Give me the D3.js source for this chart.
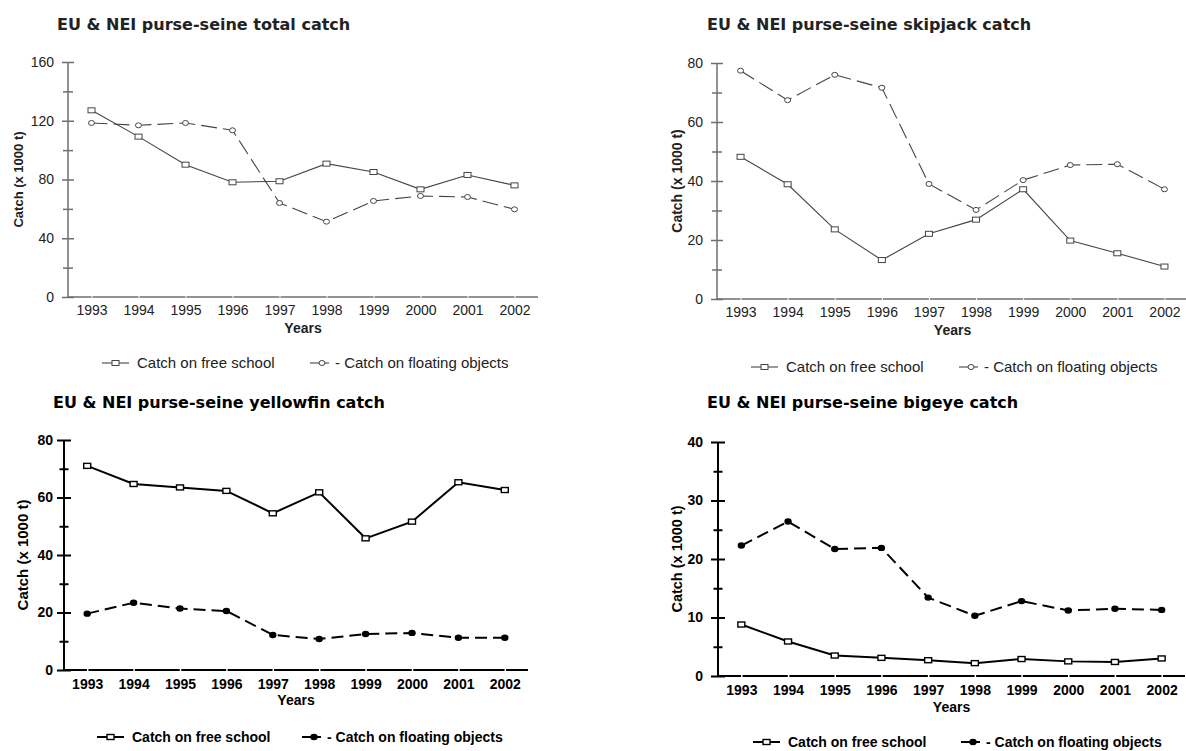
<!DOCTYPE html>
<html>
<head>
<meta charset="utf-8">
<script src="https://cdn.jsdelivr.net/npm/d3@7"></script>
<style>
  body { margin: 0; background: #fff; }
  svg { display: block; }
</style>
</head>
<body>
<div id="chart"></div>
<script>
// --- Data (thousand tonnes) ---
const years = [1993, 1994, 1995, 1996, 1997, 1998, 1999, 2000, 2001, 2002];

const totalFree     = [127.1, 109.2, 90.1, 78.1, 78.8, 90.8, 85.1, 73.3, 83.1, 76.0];
const totalFloating = [118.5, 116.9, 118.5, 113.5, 64.0, 51.3, 65.4, 68.8, 68.1, 59.7];

const skipjackFree     = [48.2, 38.9, 23.6, 13.2, 22.1, 26.9, 37.2, 19.8, 15.5, 11.0];
const skipjackFloating = [77.4, 67.4, 76.0, 71.6, 39.0, 30.2, 40.3, 45.4, 45.7, 37.2];

const yellowfinFree     = [71.0, 64.7, 63.5, 62.3, 54.5, 61.8, 45.8, 51.6, 65.3, 62.6];
const yellowfinFloating = [19.6, 23.4, 21.4, 20.5, 12.2, 10.8, 12.5, 12.9, 11.2, 11.2];

const bigeyeFree     = [8.8, 5.9, 3.5, 3.1, 2.7, 2.2, 2.9, 2.5, 2.4, 3.0];
const bigeyeFloating = [22.3, 26.4, 21.7, 21.9, 13.4, 10.3, 12.8, 11.2, 11.5, 11.3];

const titles = [
  "EU & NEI purse-seine total catch",
  "EU & NEI purse-seine skipjack catch",
  "EU & NEI purse-seine yellowfin catch",
  "EU & NEI purse-seine bigeye catch"
];
const legendLabels = ["Catch on free school", "- Catch on floating objects"];
const yAxisLabel = "Catch (x 1000 t)";
const xAxisLabel = "Years";

// --- Layout of the four panels ---
const W = 1186, H = 751;

const styles = {
  light: { axis: "#6e6e6e", axisW: 1.5, line: "#444", lineW: 1.1, text: "#222",
           tickWeight: "normal", legendWeight: "normal", legendSize: 15,
           major: 6, minor: 5, gapW: 1, dash: "16,6" },
  heavy: { axis: "#000", axisW: 2, line: "#000", lineW: 2, text: "#000",
           tickWeight: "bold", legendWeight: "bold", legendSize: 14,
           major: 7, minor: 4.5, gapW: 1.5, dash: "12,6" }
};

const panels = [
  { title: titles[0], free: totalFree, floating: totalFloating, yMax: 160, yStep: 20, labelStep: 40,
    x0: 68, x1: 538, yTop: 62, yBot: 297, titleX: 57, titleY: 30, tickLabelGap: 14,
    yearY: 315, yearsY: 333, yLabelX: 18, yLabelSize: 13, legendY: 368, leg1: 102, leg2: 310, style: "light" },
  { title: titles[1], free: skipjackFree, floating: skipjackFloating, yMax: 80, yStep: 10, labelStep: 20,
    x0: 717, x1: 1188, yTop: 63, yBot: 299, titleX: 707, titleY: 30, tickLabelGap: 14,
    yearY: 317, yearsY: 335, yLabelX: 677, yLabelSize: 14, legendY: 372, leg1: 751, leg2: 959, style: "light" },
  { title: titles[2], free: yellowfinFree, floating: yellowfinFloating, yMax: 80, yStep: 10, labelStep: 20,
    x0: 64, x1: 528, yTop: 440, yBot: 670, titleX: 53, titleY: 408, tickLabelGap: 11,
    yearY: 689, yearsY: 705, yLabelX: 23, yLabelSize: 15, legendY: 742, leg1: 97, leg2: 302, style: "heavy" },
  { title: titles[3], free: bigeyeFree, floating: bigeyeFloating, yMax: 40, yStep: 5, labelStep: 10,
    x0: 718, x1: 1185, yTop: 442, yBot: 676, titleX: 707, titleY: 408, tickLabelGap: 15,
    yearY: 695, yearsY: 712, yLabelX: 677, yLabelSize: 14.5, legendY: 747, leg1: 753, leg2: 961, style: "heavy" }
];

const svg = d3.select("#chart").append("svg")
  .attr("width", W)
  .attr("height", H)
  .attr("viewBox", [0, 0, W, H]);

svg.append("rect").attr("width", W).attr("height", H).attr("fill", "#fff");

panels.forEach(p => drawPanel(p));

function squareMarker(g, cx, cy, s) {
  g.append("rect")
    .attr("x", cx - 3.5).attr("y", cy - 2.5)
    .attr("width", 7).attr("height", 5)
    .attr("fill", "#fff")
    .attr("stroke", s.line)
    .attr("stroke-width", s === styles.heavy ? 1.4 : 1);
}

function circleMarker(g, cx, cy, s) {
  g.append("ellipse")
    .attr("cx", cx).attr("cy", cy)
    .attr("rx", 3).attr("ry", 2.5)
    .attr("fill", s === styles.heavy ? "#000" : "#fff")
    .attr("stroke", s.line)
    .attr("stroke-width", s === styles.heavy ? 1.4 : 1);
}

function drawPanel(p) {
  const s = styles[p.style];
  const g = svg.append("g").attr("font-family", "'Liberation Sans', Arial, sans-serif");

  const x = d3.scalePoint().domain(years).range([p.x0, p.x1]).padding(0.5);
  const y = d3.scaleLinear().domain([0, p.yMax]).range([p.yBot, p.yTop]);

  // Title
  g.append("text")
    .attr("x", p.titleX).attr("y", p.titleY)
    .attr("font-family", "'DejaVu Sans', sans-serif")
    .attr("font-weight", "bold")
    .attr("font-size", 16)
    .attr("fill", s.text)
    .text(p.title);

  // Y axis: ticks cross the axis line, labels on every other tick
  const tickVals = d3.range(0, p.yMax + 0.001, p.yStep);
  const yAxis = g.append("g")
    .attr("transform", `translate(${p.x0},0)`)
    .call(d3.axisLeft(y)
      .tickValues(tickVals)
      .tickSizeOuter(0)
      .tickSize(s.major)
      .tickPadding(p.tickLabelGap - s.major)
      .tickFormat(d => d % p.labelStep === 0 ? d : ""));

  yAxis.select(".domain").attr("stroke", s.axis).attr("stroke-width", s.axisW)
    .attr("d", `M0,${p.yBot}V${p.yTop}`);
  yAxis.selectAll(".tick line")
    .attr("stroke", s.axis)
    .attr("stroke-width", s.axisW)
    .attr("x1", d => d % p.labelStep === 0 ? s.major : s.minor)
    .attr("x2", d => d % p.labelStep === 0 ? -s.major : -s.minor);
  yAxis.selectAll(".tick text")
    .attr("x", -p.tickLabelGap)
    .attr("font-size", 14)
    .attr("font-family", "'Liberation Sans', Arial, sans-serif")
    .attr("font-weight", s.tickWeight)
    .attr("fill", s.text);

  // X axis: plain line with small gaps at the category positions
  const xAxis = g.append("g")
    .attr("transform", `translate(0,${p.yBot})`)
    .call(d3.axisBottom(x).tickSize(0).tickSizeOuter(0));
  xAxis.select(".domain").attr("stroke", s.axis).attr("stroke-width", s.axisW)
    .attr("d", `M${p.x0 - s.axisW / 2},0H${p.x1}`);
  xAxis.selectAll(".tick line")
    .attr("stroke", "#fff")
    .attr("stroke-width", s.gapW)
    .attr("y1", -s.axisW).attr("y2", s.axisW);
  xAxis.selectAll(".tick text")
    .attr("y", p.yearY - p.yBot)
    .attr("dy", null)
    .attr("font-size", 14)
    .attr("font-family", "'Liberation Sans', Arial, sans-serif")
    .attr("font-weight", s.tickWeight)
    .attr("fill", s.text);

  // Axis titles
  g.append("text")
    .attr("x", (p.x0 + p.x1) / 2).attr("y", p.yearsY)
    .attr("text-anchor", "middle")
    .attr("font-weight", "bold").attr("font-size", 14)
    .attr("fill", s.text)
    .text(xAxisLabel);

  g.append("text")
    .attr("transform", `translate(${p.yLabelX},${(p.yTop + p.yBot) / 2}) rotate(-90)`)
    .attr("text-anchor", "middle")
    .attr("dy", "0.35em")
    .attr("font-weight", "bold").attr("font-size", p.yLabelSize)
    .attr("fill", s.text)
    .text(yAxisLabel);

  // Series lines
  const line = d3.line()
    .x((d, i) => x(years[i]))
    .y(d => y(d));

  g.append("path")
    .datum(p.floating)
    .attr("d", line)
    .attr("fill", "none")
    .attr("stroke", s.line)
    .attr("stroke-width", s.lineW)
    .attr("stroke-dasharray", s.dash);

  g.append("path")
    .datum(p.free)
    .attr("d", line)
    .attr("fill", "none")
    .attr("stroke", s.line)
    .attr("stroke-width", s.lineW);

  p.floating.forEach((v, i) => circleMarker(g, x(years[i]), y(v), s));
  p.free.forEach((v, i) => squareMarker(g, x(years[i]), y(v), s));

  // Legend
  const ly = p.legendY - 5;
  const leg = g.append("g");
  leg.append("line")
    .attr("x1", p.leg1).attr("x2", p.leg1 + 27)
    .attr("y1", ly).attr("y2", ly)
    .attr("stroke", s.line).attr("stroke-width", s.lineW);
  squareMarker(leg, p.leg1 + 13.5, ly, s);
  leg.append("text")
    .attr("x", p.leg1 + 35).attr("y", p.legendY)
    .attr("font-size", s.legendSize).attr("font-weight", s.legendWeight)
    .attr("fill", s.text)
    .text(legendLabels[0]);

  leg.append("line")
    .attr("x1", p.leg2).attr("x2", p.leg2 + 19)
    .attr("y1", ly).attr("y2", ly)
    .attr("stroke", s.line).attr("stroke-width", s.lineW);
  circleMarker(leg, p.leg2 + 12, ly, s);
  leg.append("text")
    .attr("x", p.leg2 + 25).attr("y", p.legendY)
    .attr("font-size", s.legendSize).attr("font-weight", s.legendWeight)
    .attr("fill", s.text)
    .text(legendLabels[1]);
}
</script>
</body>
</html>
